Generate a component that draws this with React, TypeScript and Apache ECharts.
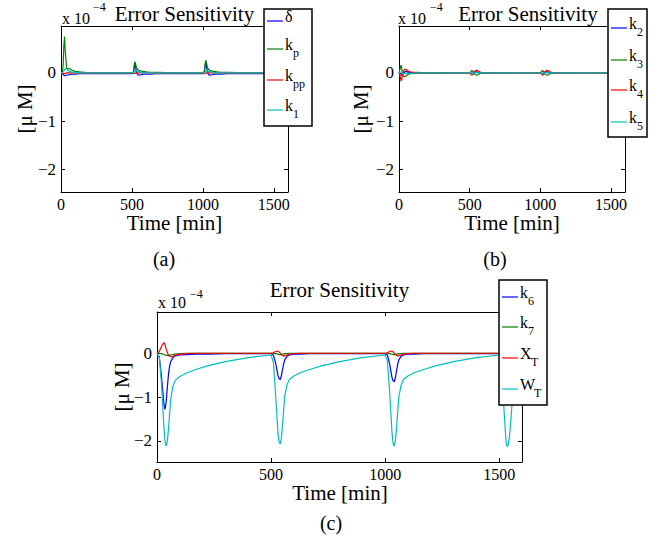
import React, { useEffect, useRef } from "react";
import * as echarts from "echarts";

const FONT = "'Liberation Serif', 'Times New Roman', Times, serif";

// tick values
const X_TICKS = [0, 500, 1000, 1500];
const Y_TICKS = [-2, -1, 0];

// time grid for panels (a) and (b)
const T_AB = [
  0, 5, 10, 15, 20, 25, 30, 40, 50, 60, 70, 80, 100, 130, 170, 250, 350, 450,
  500, 505, 510, 515, 520, 525, 530, 540, 550, 560, 570, 580, 600, 630, 670, 750, 850, 950,
  1000, 1005, 1010, 1015, 1020, 1025, 1030, 1040, 1050, 1060, 1070, 1080, 1100, 1130, 1170, 1250, 1350, 1450,
  1500, 1600,
];

// panel (a) series (x 1e-4 uM)
const DELTA = [
  0, 0, -0.01, -0.03, -0.05, -0.06, -0.06, -0.05, -0.04, -0.04, -0.03, -0.03, -0.03, -0.02, -0.02, -0.02, -0.02, -0.02,
  -0.02, -0.02, 0, 0.1, 0.2, 0.16, 0.03, -0.04, -0.05, -0.04, -0.04, -0.03, -0.03, -0.03, -0.02, -0.02, -0.02, -0.02,
  -0.02, -0.02, 0.01, 0.12, 0.22, 0.17, 0.04, -0.04, -0.05, -0.04, -0.04, -0.03, -0.03, -0.03, -0.02, -0.02, -0.02, -0.02,
  -0.02, -0.02,
];
const K_P = [
  0, 0, 0.02, 0.15, 0.55, 0.75, 0.45, 0.1, 0.08, 0.09, 0.07, 0.05, 0.03, 0.02, 0.01, 0.005, 0, 0,
  0, 0, 0.02, 0.12, 0.23, 0.2, 0.12, 0.07, 0.05, 0.04, 0.03, 0.03, 0.02, 0.01, 0.01, 0.005, 0, 0,
  0, 0, 0.03, 0.15, 0.26, 0.22, 0.13, 0.07, 0.05, 0.04, 0.03, 0.03, 0.02, 0.01, 0.01, 0.005, 0, 0,
  0, 0,
];
const K_PP = [
  0, 0, 0, -0.01, -0.02, -0.02, -0.01, 0, 0, 0, 0, 0, 0, 0, 0, 0, 0, 0,
  0, 0, 0, -0.01, -0.01, -0.01, 0, 0, 0, 0, 0, 0, 0, 0, 0, 0, 0, 0,
  0, 0, 0, -0.01, -0.01, -0.01, 0, 0, 0, 0, 0, 0, 0, 0, 0, 0, 0, 0,
  0, 0,
];
const K_1 = [
  0, 0, 0.01, 0.02, 0.04, 0.06, 0.08, 0.08, 0.05, 0.03, 0.02, 0.01, 0.01, 0, 0, 0, 0, 0,
  0, 0, 0, 0.01, 0.03, 0.04, 0.04, 0.03, 0.02, 0.01, 0.01, 0, 0, 0, 0, 0, 0, 0,
  0, 0, 0, 0.01, 0.03, 0.04, 0.04, 0.03, 0.02, 0.01, 0.01, 0, 0, 0, 0, 0, 0, 0,
  0, 0,
];

// panel (b) series
const K_2 = [
  0, 0, -0.02, -0.04, -0.05, -0.04, -0.02, 0.02, 0.03, 0.02, 0.01, 0.01, 0, 0, 0, 0, 0, 0,
  0, 0, -0.01, -0.02, -0.03, -0.02, 0, 0.02, 0.02, 0.01, 0.01, 0, 0, 0, 0, 0, 0, 0,
  0, 0, -0.01, -0.02, -0.03, -0.02, 0, 0.02, 0.02, 0.01, 0.01, 0, 0, 0, 0, 0, 0, 0,
  0, 0,
];
const K_3 = [
  0, 0.05, 0.12, 0.16, 0.08, -0.02, -0.07, -0.08, -0.06, -0.04, -0.03, -0.02, -0.02, -0.01, -0.01, -0.01, 0, 0,
  0, 0.01, 0.03, 0.05, 0.04, 0.01, -0.02, -0.04, -0.05, -0.04, -0.02, -0.01, -0.01, 0, 0, 0, 0, 0,
  0, 0.01, 0.03, 0.05, 0.04, 0.01, -0.02, -0.04, -0.05, -0.04, -0.02, -0.01, -0.01, 0, 0, 0, 0, 0,
  0, 0,
];
const K_4 = [
  0, -0.03, -0.1, -0.17, -0.13, -0.04, 0.03, 0.07, 0.07, 0.05, 0.03, 0.02, 0.01, 0.01, 0, 0, 0, 0,
  0, -0.01, -0.03, -0.05, -0.04, -0.01, 0.02, 0.04, 0.05, 0.04, 0.02, 0.01, 0, 0, 0, 0, 0, 0,
  0, -0.01, -0.03, -0.05, -0.04, -0.01, 0.02, 0.04, 0.05, 0.04, 0.02, 0.01, 0, 0, 0, 0, 0, 0,
  0, 0,
];
const K_5 = [
  0, 0.02, 0.01, -0.01, -0.02, -0.02, -0.02, -0.01, -0.01, -0.01, -0.01, -0.01, -0.01, 0, 0, 0, 0, 0,
  0, 0, 0, -0.01, -0.01, -0.01, -0.01, 0, 0, 0, 0, 0, 0, 0, 0, 0, 0, 0,
  0, 0, 0, -0.01, -0.01, -0.01, -0.01, 0, 0, 0, 0, 0, 0, 0, 0, 0, 0, 0,
  0, 0,
];

// time grid for panel (c)
const T_C = [
  0, 10, 20, 30, 35, 40, 45, 50, 55, 60, 70, 80, 100, 130, 170, 220, 300, 400,
  500, 510, 520, 530, 535, 540, 545, 550, 555, 560, 570, 580, 600, 630, 670, 720, 800, 900,
  1000, 1010, 1020, 1030, 1035, 1040, 1045, 1050, 1055, 1060, 1070, 1080, 1100, 1130, 1170, 1220, 1300, 1400,
  1500, 1510, 1520, 1530, 1535, 1540, 1545, 1550, 1555, 1560, 1570, 1580, 1600,
];
const K_6 = [
  0, -0.08, -0.55, -1.15, -1.28, -1.12, -0.8, -0.5, -0.3, -0.19, -0.1, -0.06, -0.04, -0.03, -0.02, -0.02, -0.01, -0.01,
  -0.01, -0.04, -0.22, -0.5, -0.58, -0.6, -0.52, -0.38, -0.25, -0.15, -0.07, -0.04, -0.02, -0.02, -0.01, -0.01, -0.01, -0.01,
  -0.01, -0.04, -0.25, -0.55, -0.63, -0.65, -0.56, -0.4, -0.26, -0.15, -0.07, -0.04, -0.02, -0.02, -0.01, -0.01, -0.01, -0.01,
  -0.01, -0.08, -0.35, -0.6, -0.65, -0.6, -0.48, -0.33, -0.2, -0.12, -0.06, -0.04, -0.02,
];
const K_7 = [
  0, 0, -0.01, -0.03, -0.04, -0.05, -0.05, -0.05, -0.05, -0.04, -0.03, -0.02, -0.01, 0, 0, 0, 0, 0,
  0, 0, -0.01, -0.02, -0.03, -0.03, -0.03, -0.02, -0.02, -0.01, -0.01, 0, 0, 0, 0, 0, 0, 0,
  0, 0, -0.01, -0.02, -0.03, -0.03, -0.03, -0.02, -0.02, -0.01, -0.01, 0, 0, 0, 0, 0, 0, 0,
  0, 0, -0.01, -0.02, -0.03, -0.03, -0.03, -0.02, -0.02, -0.01, -0.01, 0, 0,
];
const X_T = [
  0, 0.04, 0.16, 0.24, 0.2, 0.1, 0.02, -0.04, -0.07, -0.08, -0.07, -0.05, -0.02, -0.01, 0, 0, 0, 0,
  0, 0.01, 0.04, 0.05, 0.03, 0, -0.03, -0.05, -0.06, -0.06, -0.04, -0.02, -0.01, 0, 0, 0, 0, 0,
  0, 0.01, 0.04, 0.05, 0.03, 0, -0.03, -0.05, -0.06, -0.06, -0.04, -0.02, -0.01, 0, 0, 0, 0, 0,
  0, 0.01, 0.04, 0.05, 0.03, 0, -0.03, -0.05, -0.06, -0.06, -0.04, -0.02, -0.01,
];
const W_T = [
  0, -0.1, -0.7, -1.65, -2.0, -2.12, -2.02, -1.75, -1.4, -1.05, -0.75, -0.62, -0.53, -0.45, -0.37, -0.29, -0.19, -0.1,
  -0.04, -0.2, -0.95, -1.8, -2.02, -2.07, -1.95, -1.65, -1.3, -0.98, -0.72, -0.6, -0.52, -0.44, -0.37, -0.29, -0.19, -0.1,
  -0.04, -0.18, -0.9, -1.8, -2.06, -2.12, -2.0, -1.7, -1.35, -1.0, -0.73, -0.6, -0.52, -0.44, -0.37, -0.29, -0.19, -0.1,
  -0.04, -0.3, -1.2, -2.02, -2.13, -2.08, -1.9, -1.6, -1.25, -0.95, -0.72, -0.6, -0.51,
];

const BLUE = "#0000ff";
const GREEN = "#008000";
const RED = "#ff0000";
const CYAN = "#00bfbf";

// legend entries: [main, subscript]
const LEG_A: [string, string][] = [["δ", ""], ["k", "p"], ["k", "pp"], ["k", "1"]];
const LEG_B: [string, string][] = [["k", "2"], ["k", "3"], ["k", "4"], ["k", "5"]];
const LEG_C: [string, string][] = [["k", "6"], ["k", "7"], ["X", "T"], ["W", "T"]];
const LEG_COLORS = [BLUE, GREEN, RED, CYAN];

const fmtY = (v: number) => (v < 0 ? "\u2212" + Math.abs(v) : String(v));
const fmtX = (v: number) => String(v);

function txt(x: number, y: number, text: string, size: number, align = "center", extra: any = {}) {
  return {
    type: "text",
    x,
    y,
    z: 110,
    silent: true,
    ...extra,
    style: {
      text,
      fontSize: size,
      fontFamily: FONT,
      fill: "#000",
      align,
      verticalAlign: "middle",
      textAlign: align,
      textVerticalAlign: "middle",
    },
  };
}

function legend(
  box: { x: number; y: number; w: number; h: number },
  lineX1: number,
  lineX2: number,
  ys: number[],
  items: [string, string][]
) {
  const els: any[] = [
    {
      type: "rect",
      z: 100,
      silent: true,
      shape: { x: box.x, y: box.y, width: box.w, height: box.h },
      style: { fill: "#fff", stroke: "#000", lineWidth: 1.5 },
    },
  ];
  items.forEach(([main, sub], i) => {
    const y = ys[i];
    els.push({
      type: "polyline",
      z: 105,
      silent: true,
      shape: { points: [[lineX1, y], [lineX2, y]] },
      style: { stroke: LEG_COLORS[i], lineWidth: 1.2, fill: "none" },
    });
    const tx = lineX2 + 2;
    els.push(txt(tx, y - 5, main, 16, "left"));
    if (sub) {
      const w = main === "k" ? 8 : main === "X" ? 11 : main === "W" ? 14 : 8;
      els.push(txt(tx + w, y + 4, sub, 12, "left"));
    }
  });
  return els;
}

export default function App() {
  const ref = useRef<HTMLDivElement>(null);
  useEffect(() => {
    const chart = echarts.init(ref.current!, null, { renderer: "svg" });

    const panels = [
      { grid: { left: 61, top: 26, width: 227, height: 166 }, yMin: -2.47, yMax: 0.97 },
      { grid: { left: 399, top: 26, width: 226, height: 166 }, yMin: -2.47, yMax: 0.97 },
      { grid: { left: 157, top: 312, width: 365, height: 150 }, yMin: -2.48, yMax: 0.94 },
    ];

    const axisLine = { show: true, onZero: false, lineStyle: { color: "#000", width: 1 } };
    const xAxis: any[] = [];
    const yAxis: any[] = [];
    panels.forEach((p, i) => {
      const xt = { show: true, inside: true, length: 4, customValues: X_TICKS, lineStyle: { color: "#000" } };
      const yt = { show: true, inside: true, length: 4, customValues: Y_TICKS, lineStyle: { color: "#000" } };
      xAxis.push({
        gridIndex: i, type: "value", position: "bottom", min: 0, max: 1600,
        axisLine, axisTick: xt, splitLine: { show: false },
        axisLabel: { show: true, customValues: X_TICKS, formatter: fmtX, color: "#000", fontFamily: FONT, fontSize: 16, margin: 4 },
      });
      xAxis.push({
        gridIndex: i, type: "value", position: "top", min: 0, max: 1600,
        axisLine, axisTick: xt, splitLine: { show: false }, axisLabel: { show: false },
      });
      yAxis.push({
        gridIndex: i, type: "value", position: "left", min: p.yMin, max: p.yMax,
        axisLine, axisTick: yt, splitLine: { show: false },
        axisLabel: { show: true, customValues: Y_TICKS, formatter: fmtY, color: "#000", fontFamily: FONT, fontSize: 17, margin: 5 },
      });
      yAxis.push({
        gridIndex: i, type: "value", position: "right", min: p.yMin, max: p.yMax,
        axisLine, axisTick: yt, splitLine: { show: false }, axisLabel: { show: false },
      });
    });

    const mk = (name: string, t: number[], v: number[], color: string, gi: number) => ({
      type: "line",
      name,
      xAxisIndex: gi * 2,
      yAxisIndex: gi * 2,
      data: t.map((x, k) => [x, v[k]]),
      showSymbol: false,
      symbol: "none",
      silent: true,
      clip: true,
      lineStyle: { color, width: 1.2 },
      itemStyle: { color },
    });

    const series = [
      mk("δ", T_AB, DELTA, BLUE, 0),
      mk("kp", T_AB, K_P, GREEN, 0),
      mk("kpp", T_AB, K_PP, RED, 0),
      mk("k1", T_AB, K_1, CYAN, 0),
      mk("k2", T_AB, K_2, BLUE, 1),
      mk("k3", T_AB, K_3, GREEN, 1),
      mk("k4", T_AB, K_4, RED, 1),
      mk("k5", T_AB, K_5, CYAN, 1),
      mk("k6", T_C, K_6, BLUE, 2),
      mk("k7", T_C, K_7, GREEN, 2),
      mk("XT", T_C, X_T, RED, 2),
      mk("WT", T_C, W_T, CYAN, 2),
    ];

    const graphic: any[] = [
      // panel (a)
      txt(184.5, 13.5, "Error Sensitivity", 21),
      txt(62, 18, "x 10", 16, "left"),
      txt(93, 7, "\u22124", 12, "left"),
      txt(25, 109, "[μ M]", 21, "center", { rotation: Math.PI / 2 }),
      txt(174.5, 223, "Time [min]", 21),
      txt(164, 259, "(a)", 20),
      // panel (b)
      txt(528, 13.5, "Error Sensitivity", 21),
      txt(398, 18, "x 10", 16, "left"),
      txt(430, 7, "\u22124", 12, "left"),
      txt(361, 109, "[μ M]", 21, "center", { rotation: Math.PI / 2 }),
      txt(512, 223, "Time [min]", 21),
      txt(495, 259, "(b)", 20),
      // panel (c)
      txt(339.5, 290, "Error Sensitivity", 21),
      txt(158, 302.5, "x 10", 16, "left"),
      txt(190, 294, "\u22124", 12, "left"),
      txt(122, 387, "[μ M]", 21, "center", { rotation: Math.PI / 2 }),
      txt(340, 493, "Time [min]", 21),
      txt(331, 523, "(c)", 20),
      ...legend({ x: 264, y: 9, w: 48, h: 117 }, 267, 283, [21, 49, 80, 110], LEG_A),
      ...legend({ x: 608, y: 9, w: 39, h: 128 }, 611, 627, [28, 60, 90, 122], LEG_B),
      ...legend({ x: 499, y: 280, w: 48, h: 125 }, 502, 518, [297, 327, 358, 389], LEG_C),
    ];

    chart.setOption({
      animation: false,
      backgroundColor: "#fff",
      grid: panels.map((p) => ({ ...p.grid, containLabel: false, show: false })),
      xAxis,
      yAxis,
      series,
      graphic,
    });
    return () => chart.dispose();
  }, []);
  return (
    <div
      ref={ref}
      style={{ position: "absolute", left: 0, top: 0, width: 663, height: 545, background: "#fff" }}
    />
  );
}
